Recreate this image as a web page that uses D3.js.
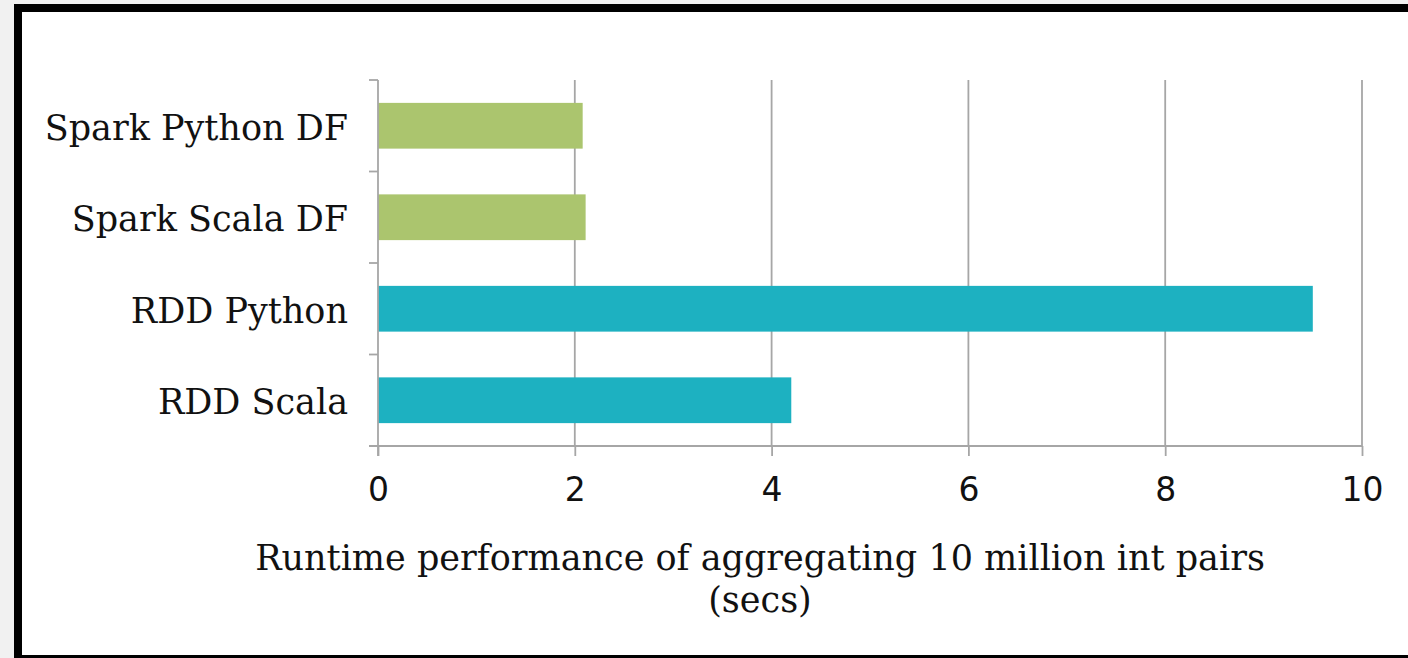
<!DOCTYPE html>
<html>
<head>
<meta charset="utf-8">
<script src="https://cdn.jsdelivr.net/npm/d3@7"></script>
<style>
  body { margin: 0; background: #f1f1f1; overflow: hidden; }
  svg { display: block; }
</style>
</head>
<body>
<div id="chart"></div>
<script>
// --- DATA ---
const categories = ["Spark Python DF", "Spark Scala DF", "RDD Python", "RDD Scala"];
const runtimes = [2.08, 2.11, 9.5, 4.2];
const barColors = ["#abc56e", "#abc56e", "#1db1c1", "#1db1c1"];
const xTicks = [0, 2, 4, 6, 8, 10];
const titleLines = ["Runtime performance of aggregating 10 million int pairs", "(secs)"];

window.onload = () => {
  const width = 1408, height = 658;
  const margin = { top: 80, left: 378, right: 46, bottom: 212 };
  const innerWidth = 1362 - margin.left;
  const innerHeight = 446 - margin.top;

  const root = d3.select("#chart").append("svg")
    .attr("width", width).attr("height", height);

  // frame: grey page, black border, white panel
  root.append("rect").attr("width", width).attr("height", height).attr("fill", "#f1f1f1");
  root.append("rect").attr("x", 14).attr("y", 4).attr("width", width).attr("height", 660).attr("fill", "#000");
  root.append("rect").attr("x", 22).attr("y", 12).attr("width", width).attr("height", 643).attr("fill", "#fff");

  const svg = root.append("g")
    .attr("transform", `translate(${margin.left},${margin.top})`);

  // --- SCALES ---
  const xScale = d3.scaleLinear().domain([0, 10]).range([0, innerWidth]);
  const yScale = d3.scaleBand().domain(categories).range([0, innerHeight]).paddingInner(0.5).paddingOuter(0.25);

  // --- GRID ---
  svg.selectAll(".grid").data(xTicks.slice(1)).enter()
    .append("line")
    .attr("x1", d => xScale(d)).attr("x2", d => xScale(d))
    .attr("y1", 0).attr("y2", innerHeight)
    .attr("stroke", "#a6a6a6").attr("stroke-width", 1.8);

  // --- BARS ---
  svg.selectAll(".bar").data(categories).enter()
    .append("rect")
    .attr("x", xScale(0))
    .attr("y", d => yScale(d))
    .attr("width", (d, i) => xScale(runtimes[i]))
    .attr("height", yScale.bandwidth())
    .attr("fill", (d, i) => barColors[i]);

  // --- AXES ---
  const xAxis = svg.append("g")
    .attr("transform", `translate(0,${innerHeight})`)
    .call(d3.axisBottom(xScale).tickValues(xTicks).tickSize(10).tickPadding(22).tickFormat(d3.format("d")));
  xAxis.select(".domain").attr("stroke", "#a6a6a6").attr("stroke-width", 1.8)
    .attr("d", `M-9,0H${innerWidth}`);
  xAxis.selectAll(".tick line").attr("stroke", "#a6a6a6").attr("stroke-width", 1.8);
  xAxis.selectAll(".tick text")
    .style("font-family", "'DejaVu Sans', sans-serif")
    .style("font-size", "33px").attr("fill", "#111");

  // y axis: ticks at band boundaries
  const bandStep = innerHeight / categories.length;
  const yEdges = d3.range(categories.length + 1).map(i => i * bandStep);
  svg.append("line").attr("x1", 0).attr("x2", 0).attr("y1", 0).attr("y2", innerHeight + 10)
    .attr("stroke", "#a6a6a6").attr("stroke-width", 1.8);
  svg.selectAll(".ytick").data(yEdges).enter()
    .append("line")
    .attr("x1", -9).attr("x2", 0)
    .attr("y1", d => d).attr("y2", d => d)
    .attr("stroke", "#a6a6a6").attr("stroke-width", 1.8);

  svg.selectAll(".ylabel").data(categories).enter()
    .append("text")
    .attr("x", -30)
    .attr("y", d => yScale(d) + yScale.bandwidth() / 2)
    .attr("dy", "0.4em")
    .attr("text-anchor", "end")
    .style("font-family", "'DejaVu Serif', serif")
    .style("font-size", "35px")
    .attr("fill", "#111")
    .text(d => d);

  // --- TITLE ---
  root.selectAll(".title").data(titleLines).enter()
    .append("text")
    .attr("x", 760)
    .attr("y", (d, i) => 570 + i * 42)
    .attr("text-anchor", "middle")
    .style("font-family", "'DejaVu Serif', serif")
    .style("font-size", "35px")
    .attr("fill", "#111")
    .text(d => d);
};
</script>
</body>
</html>
